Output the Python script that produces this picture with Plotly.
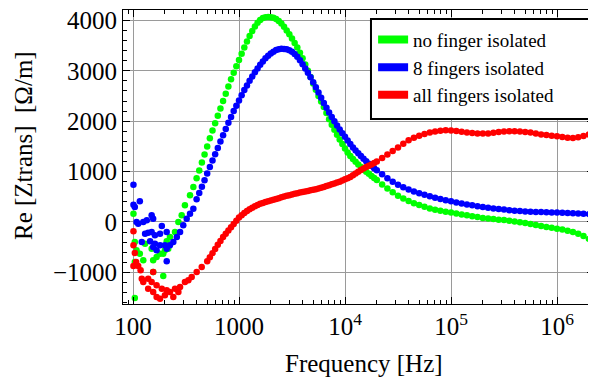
import plotly.graph_objects as go

# ---------------- data ----------------
# frequency sweep (Hz)
sweep_hz = [
    398.1, 421.7, 446.7, 473.2, 501.2, 530.9, 562.3, 595.7, 631.0, 668.3,
    707.9, 749.9, 794.3, 841.4, 891.3, 944.1, 1000, 1059, 1122, 1189,
    1259, 1334, 1413, 1496, 1585, 1679, 1778, 1884, 1995, 2113,
    2239, 2371, 2512, 2661, 2818, 2985, 3162, 3350, 3548, 3758,
    3981, 4217, 4467, 4732, 5012, 5309, 5623, 5957, 6310, 6683,
    7079, 7499, 7943, 8414, 8913, 9441, 10000, 10590, 11220, 11890,
    12590, 13340, 14130, 14960, 15850, 16790, 17780, 18840, 19950,
    22390, 25120, 28180, 31620, 35480, 39810, 44670, 50120, 56230, 63100,
    70790, 79430, 89130, 100000, 112200, 125900, 141300, 158500, 177800, 199500,
    223900, 251200, 281800, 316200, 354800, 398100, 446700, 501200, 562300, 631000,
    707900, 794300, 891300, 1000000, 1122000, 1259000, 1413000, 1585000, 1778000, 1995000,
]

# Re[Ztrans] (Ohm/m) on the sweep
no_finger = [
    870, 1020, 1180, 1340, 1500, 1660, 1815, 1960, 2110, 2250,
    2400, 2545, 2690, 2830, 2960, 3090, 3214, 3340, 3460, 3580,
    3690, 3790, 3880, 3955, 4010, 4045, 4062, 4068, 4063, 4050,
    4028, 3990, 3940, 3875, 3800, 3725, 3640, 3550, 3460, 3360,
    3250, 3125, 3000, 2875, 2750, 2625, 2500, 2390, 2280, 2160,
    2040, 1930, 1830, 1730, 1635, 1545, 1460, 1380, 1310, 1250,
    1195, 1140, 1090, 1040, 995, 955, 915, 875, 835,
    745, 665, 590, 520, 465, 415, 372, 335, 300, 270,
    245, 222, 202, 186, 168, 150, 132, 115, 97, 80,
    68, 57, 47, 38, 25, 10, -5, -22, -40, -58,
    -78, -98, -115, -132, -150, -172, -198, -235, -280, -335,
]
eight_fingers = [
    450, 575, 700, 830, 960, 1090, 1220, 1345, 1470, 1595,
    1720, 1845, 1970, 2085, 2200, 2305, 2410, 2515, 2620, 2710,
    2800, 2885, 2970, 3045, 3120, 3185, 3250, 3300, 3345, 3380,
    3410, 3425, 3435, 3433, 3425, 3405, 3380, 3335, 3280, 3210,
    3130, 3045, 2960, 2870, 2775, 2675, 2570, 2465, 2360, 2265,
    2170, 2085, 2000, 1915, 1835, 1760, 1690, 1615, 1545, 1480,
    1420, 1362, 1308, 1257, 1205, 1157, 1110, 1067, 1025,
    945, 870, 800, 740, 690, 645, 605, 570, 540, 510,
    483, 457, 432, 410, 388, 367, 348, 330, 313, 298,
    283, 270, 258, 246, 235, 225, 217, 210, 205, 200,
    197, 194, 190, 186, 182, 177, 173, 168, 162, 155,
]
# all fingers: sweep from 501.2 Hz on
all_fingers = [
    -780, -700, -620, -535, -450, -375, -300, -235, -170, -105, -40, 25,
    90, 135, 180, 220, 255, 285, 310, 335, 360, 378,
    395, 410, 425, 440, 455, 472, 490, 505, 520, 533,
    545, 558, 570, 583, 595, 605, 615, 628, 640, 652,
    665, 680, 695, 712, 730, 748, 765, 782, 800, 825,
    850, 870, 895, 925, 960, 995, 1030, 1060, 1090, 1115, 1140, 1170, 1200,
    1270, 1340, 1410, 1480, 1550, 1620, 1670, 1710, 1745, 1775,
    1795, 1812, 1818, 1815, 1805, 1790, 1775, 1765, 1758, 1755,
    1758, 1770, 1785, 1797, 1800, 1798, 1793, 1787, 1775, 1755,
    1738, 1725, 1712, 1700, 1688, 1672, 1665, 1680, 1705, 1735,
]
all_start = 4  # first sweep index of the red series

# noisy low-frequency readings (Hz, Ohm/m)
no_finger_low_hz = [101, 104, 108, 116, 104, 125, 155, 167, 180, 193, 200, 215, 155, 193, 104,
                    130, 150, 208, 223, 249, 268, 288, 309, 345, 371]
no_finger_low = [165, -397, -562, -628, -794, -760, -760, -694, -628, -628, -562, -529, -992, -1071, -1508,
                 -430, -529, -384, -298, -198, 0, 132, 331, 529, 694]
eight_low_hz = [101, 101, 104, 116, 108, 112, 125, 135, 150, 155, 187, 130, 139, 150, 161, 180, 208,
                121, 145, 161, 180, 200, 155, 167, 208, 208, 223, 240, 259, 278, 298, 321, 345, 371]
eight_low = [740, 343, 298, 410, 0, -33, 0, 33, 132, 66, -79, -231, -212, -198, -265, -231, -198,
             -397, -384, -430, -463, -463, -496, -562, -529, -781, -463, -397, -298, -198, -66, 66, 165, 265]
all_low_hz = [101, 101, 104, 107, 101, 112, 118, 121, 125, 139, 150, 155, 139, 155, 167, 180, 200,
              223, 240, 268, 278, 309, 333, 358, 399, 445, 187, 208, 249, 167]
all_low = [-185, -463, -615, -794, -873, -873, -959, -1124, -1190, -1124, -1190, -992, -1323, -1389,
           -1488, -1521, -1455, -1389, -1488, -1389, -1290, -1190, -1157, -1091, -992, -893,
           -1323, -1356, -1323, -1257]

series_names = ["no finger isolated", "8 fingers isolated", "all fingers isolated"]
series_colors = ["#00ff00", "#0000ff", "#ff0000"]

x_tickvals = [100, 1000, 1e4, 1e5, 1e6]
x_ticktext = ["100", "1000", "10<sup>4</sup>", "10<sup>5</sup>", "10<sup>6</sup>"]

# ---------------- figure ----------------
FONT = "Liberation Serif, Times New Roman, serif"
fig = go.Figure()

xs = [no_finger_low_hz + sweep_hz,
      eight_low_hz + sweep_hz,
      all_low_hz + sweep_hz[all_start:]]
ys = [no_finger_low + no_finger,
      eight_low + eight_fingers,
      all_low + all_fingers]

for x, y, name, col in zip(xs, ys, series_names, series_colors):
    fig.add_trace(go.Scatter(x=x, y=y, mode="markers", name=name, showlegend=False,
                             marker=dict(color=col, size=6.5, line=dict(width=0))))

for name, col in zip(series_names, series_colors):
    fig.add_trace(go.Scatter(x=[None], y=[None], mode="lines", name=name,
                             line=dict(color=col, width=8), showlegend=True))

fig.update_xaxes(
    type="log", range=[1.9057, 6.349], automargin=False, ticklabeloverflow="allow",
    tickvals=x_tickvals, ticktext=x_ticktext,
    ticks="inside", ticklen=7, tickcolor="black", tickwidth=1,
    showline=True, linecolor="black", linewidth=1, mirror="allticks",
    showgrid=True, gridcolor="#9a9a9a", gridwidth=1, zeroline=False,
    minor=dict(ticks="inside", ticklen=4, tickcolor="black", dtick="D1", showgrid=False),
    tickfont=dict(family=FONT, size=25, color="black"),
)
fig.update_yaxes(
    range=[-1627, 4206], tick0=0, dtick=1000, automargin=False, ticklabeloverflow="allow",
    ticks="inside", ticklen=7, tickcolor="black", tickwidth=1,
    showline=True, linecolor="black", linewidth=1, mirror="allticks",
    showgrid=True, gridcolor="#9a9a9a", gridwidth=1, zeroline=False,
    minor=dict(ticks="inside", ticklen=4, tickcolor="black", dtick=200, showgrid=False),
    tickfont=dict(family=FONT, size=25, color="black"),
)

fig.add_shape(type="rect", xref="paper", yref="paper",
              x0=0.5265, x1=0.9958, y0=0.6293, y1=0.9694,
              line=dict(color="black", width=2), fillcolor="white", layer="above")

fig.add_annotation(text="Frequency [Hz]", xref="paper", yref="paper", x=0.5117, y=-0.2007,
                   xanchor="center", yanchor="middle", showarrow=False,
                   font=dict(family=FONT, size=25, color="black"))
fig.add_annotation(text="Re [Ztrans] \u00a0[\u03a9/m]", xref="paper", yref="paper", x=-0.2123, y=0.5374,
                   xanchor="center", yanchor="middle", showarrow=False, textangle=-90,
                   font=dict(family=FONT, size=25, color="black"))

# the page body adds an 8 px offset, so the figure is 588x372 to fill the 596x380 window
fig.update_layout(
    template="none",
    width=588, height=372,
    margin=dict(l=115, r=2, t=2, b=76),
    paper_bgcolor="white", plot_bgcolor="white",
    font=dict(family=FONT, color="black"),
    legend=dict(x=0.531, y=0.964, xanchor="left", yanchor="top",
                bgcolor="rgba(0,0,0,0)", borderwidth=0,
                font=dict(family=FONT, size=19, color="black"),
                itemwidth=30, tracegroupgap=0),
)

fig.write_html("out.html")
